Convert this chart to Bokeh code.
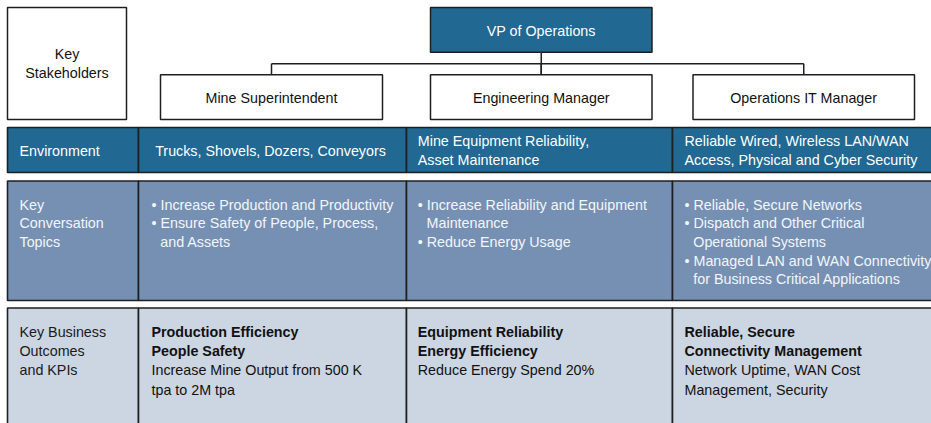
from bokeh.plotting import figure
from bokeh.models import Range1d
from bokeh.core.properties import value
from bokeh.embed import file_html
from bokeh.resources import INLINE

# ---------------- content ----------------
STAKEHOLDER_LABEL = ["Key", "Stakeholders"]
TOP_ROLE = "VP of Operations"
ROLES = ["Mine Superintendent", "Engineering Manager", "Operations IT Manager"]
ROW_LABELS = [
    ["Environment"],
    ["Key", "Conversation", "Topics"],
    ["Key Business", "Outcomes", "and KPIs"],
]
ENVIRONMENT = [
    ["Trucks, Shovels, Dozers, Conveyors"],
    ["Mine Equipment Reliability,", "Asset Maintenance"],
    ["Reliable Wired, Wireless LAN/WAN", "Access, Physical and Cyber Security"],
]
TOPICS = [
    [["Increase Production and Productivity"],
     ["Ensure Safety of People, Process,", "and Assets"]],
    [["Increase Reliability and Equipment", "Maintenance"],
     ["Reduce Energy Usage"]],
    [["Reliable, Secure Networks"],
     ["Dispatch and Other Critical", "Operational Systems"],
     ["Managed LAN and WAN Connectivity", "for Business Critical Applications"]],
]
OUTCOME_HEADS = [
    ["Production Efficiency", "People Safety"],
    ["Equipment Reliability", "Energy Efficiency"],
    ["Reliable, Secure", "Connectivity Management"],
]
OUTCOME_KPIS = [
    ["Increase Mine Output from 500 K", "tpa to 2M tpa"],
    ["Reduce Energy Spend 20%"],
    ["Network Uptime, WAN Cost", "Management, Security"],
]

# ---------------- layout / style ----------------
W, H = 931, 423
FONT = value("Liberation Sans")
FS = "14.3px"
BORDER = "#1f1f1f"
DARK = "#216892"
MID = "#7690b3"
LIGHT = "#ccd5e2"
LINE_H_CONV = 18.6
LINE_H_KBO = 19.2

COL_EDGES = [7, 138, 406, 672, 945]
TEXT_X = [19, 151, 417.3, 684]
ROW_EDGES = [(127, 172), (180.5, 300), (307.5, 440)]
ROW_FILL = [DARK, MID, LIGHT]
ROW_TEXT = ["white", "#f3f6fa", "#111111"]
ROLE_BOXES = [(160, 382), (430, 651.5), (692.5, 914)]
ROLE_Y = (74.3, 119)
VP_BOX = (430, 651.5, 7, 51.7)
KS_BOX = (7, 126, 7, 119)
CONNECT_Y = 63.3
BULLET_INDENT = 8.8

p = figure(width=W, height=H, output_backend="svg", toolbar_location=None,
           x_range=Range1d(0, W), y_range=Range1d(H, 0),
           min_border=0, outline_line_color=None, background_fill_color="white")
p.axis.visible = False
p.grid.visible = False


def txt(xs, ys, texts, color="#111111", align="left", style="normal"):
    p.text(x=xs, y=ys, text=texts, text_font=FONT, text_font_size=FS,
           text_color=color, text_align=align, text_baseline="middle",
           text_font_style=style)


# Key stakeholders box
p.quad(left=[KS_BOX[0]], right=[KS_BOX[1]], top=[KS_BOX[2]], bottom=[KS_BOX[3]],
       fill_color="white", line_color=BORDER, line_width=1.5)
cy = (KS_BOX[2] + KS_BOX[3]) / 2
n = len(STAKEHOLDER_LABEL)
txt([(KS_BOX[0] + KS_BOX[1]) / 2] * n,
    [cy + (i - (n - 1) / 2) * 19 for i in range(n)], STAKEHOLDER_LABEL, align="center")

# connectors
vp_cx = (VP_BOX[0] + VP_BOX[1]) / 2
role_cx = [(a + b) / 2 for a, b in ROLE_BOXES]
p.segment(x0=[vp_cx, role_cx[0], role_cx[0]] + role_cx[1:],
          y0=[VP_BOX[3], CONNECT_Y, CONNECT_Y] + [CONNECT_Y] * (len(role_cx) - 1),
          x1=[vp_cx, role_cx[-1], role_cx[0]] + role_cx[1:],
          y1=[ROLE_Y[0], CONNECT_Y, ROLE_Y[0]] + [ROLE_Y[0]] * (len(role_cx) - 1),
          line_color=BORDER, line_width=1.5)

# VP box
p.quad(left=[VP_BOX[0]], right=[VP_BOX[1]], top=[VP_BOX[2]], bottom=[VP_BOX[3]],
       fill_color=DARK, line_color=BORDER, line_width=1.5)
txt([vp_cx], [(VP_BOX[2] + VP_BOX[3]) / 2 + 1], [TOP_ROLE], color="white", align="center")

# role boxes
p.quad(left=[a for a, b in ROLE_BOXES], right=[b for a, b in ROLE_BOXES],
       top=[ROLE_Y[0]] * 3, bottom=[ROLE_Y[1]] * 3,
       fill_color="white", line_color=BORDER, line_width=1.5)
txt(role_cx, [(ROLE_Y[0] + ROLE_Y[1]) / 2 + 1] * 3, ROLES, align="center")

# table cells
for r, (top, bot) in enumerate(ROW_EDGES):
    p.quad(left=COL_EDGES[:-1], right=COL_EDGES[1:], top=[top] * 4, bottom=[bot] * 4,
           fill_color=ROW_FILL[r], line_color=BORDER, line_width=1.6)

# Environment row
top, bot = ROW_EDGES[0]
mid = (top + bot) / 2 + 0.5
txt([TEXT_X[0]], [mid], ROW_LABELS[0], color="white")
for c, lines in enumerate(ENVIRONMENT):
    n = len(lines)
    ys = [mid + (i - (n - 1) / 2) * LINE_H_CONV for i in range(n)]
    if c == 0:
        txt([(COL_EDGES[1] + COL_EDGES[2]) / 2 - 2] * n, ys, lines, color="white", align="center")
    else:
        txt([TEXT_X[c + 1]] * n, ys, lines, color="white")

# Conversation row
top, bot = ROW_EDGES[1]
y0 = top + 23.8
lab = ROW_LABELS[1]
txt([TEXT_X[0]] * len(lab), [y0 + i * LINE_H_CONV for i in range(len(lab))], lab, color=ROW_TEXT[1])
for c, bullets in enumerate(TOPICS):
    xs, ys, ts = [], [], []
    k = 0
    for b in bullets:
        for j, line in enumerate(b):
            xs.append(TEXT_X[c + 1] + (0 if j == 0 else BULLET_INDENT))
            ys.append(y0 + k * LINE_H_CONV)
            ts.append(("\u2022 " + line) if j == 0 else line)
            k += 1
    txt(xs, ys, ts, color=ROW_TEXT[1])

# Outcomes row
top, bot = ROW_EDGES[2]
y0 = top + 24
lab = ROW_LABELS[2]
txt([TEXT_X[0]] * len(lab), [y0 + i * LINE_H_KBO for i in range(len(lab))], lab, color="#1a1a1a")
for c in range(3):
    heads = OUTCOME_HEADS[c]
    kpis = OUTCOME_KPIS[c]
    txt([TEXT_X[c + 1]] * len(heads), [y0 + i * LINE_H_KBO for i in range(len(heads))],
        heads, color="#111111", style="bold")
    txt([TEXT_X[c + 1]] * len(kpis),
        [y0 + (len(heads) + i) * LINE_H_KBO for i in range(len(kpis))],
        kpis, color="#111111")

open("out.html", "w").write(file_html(p, INLINE))
